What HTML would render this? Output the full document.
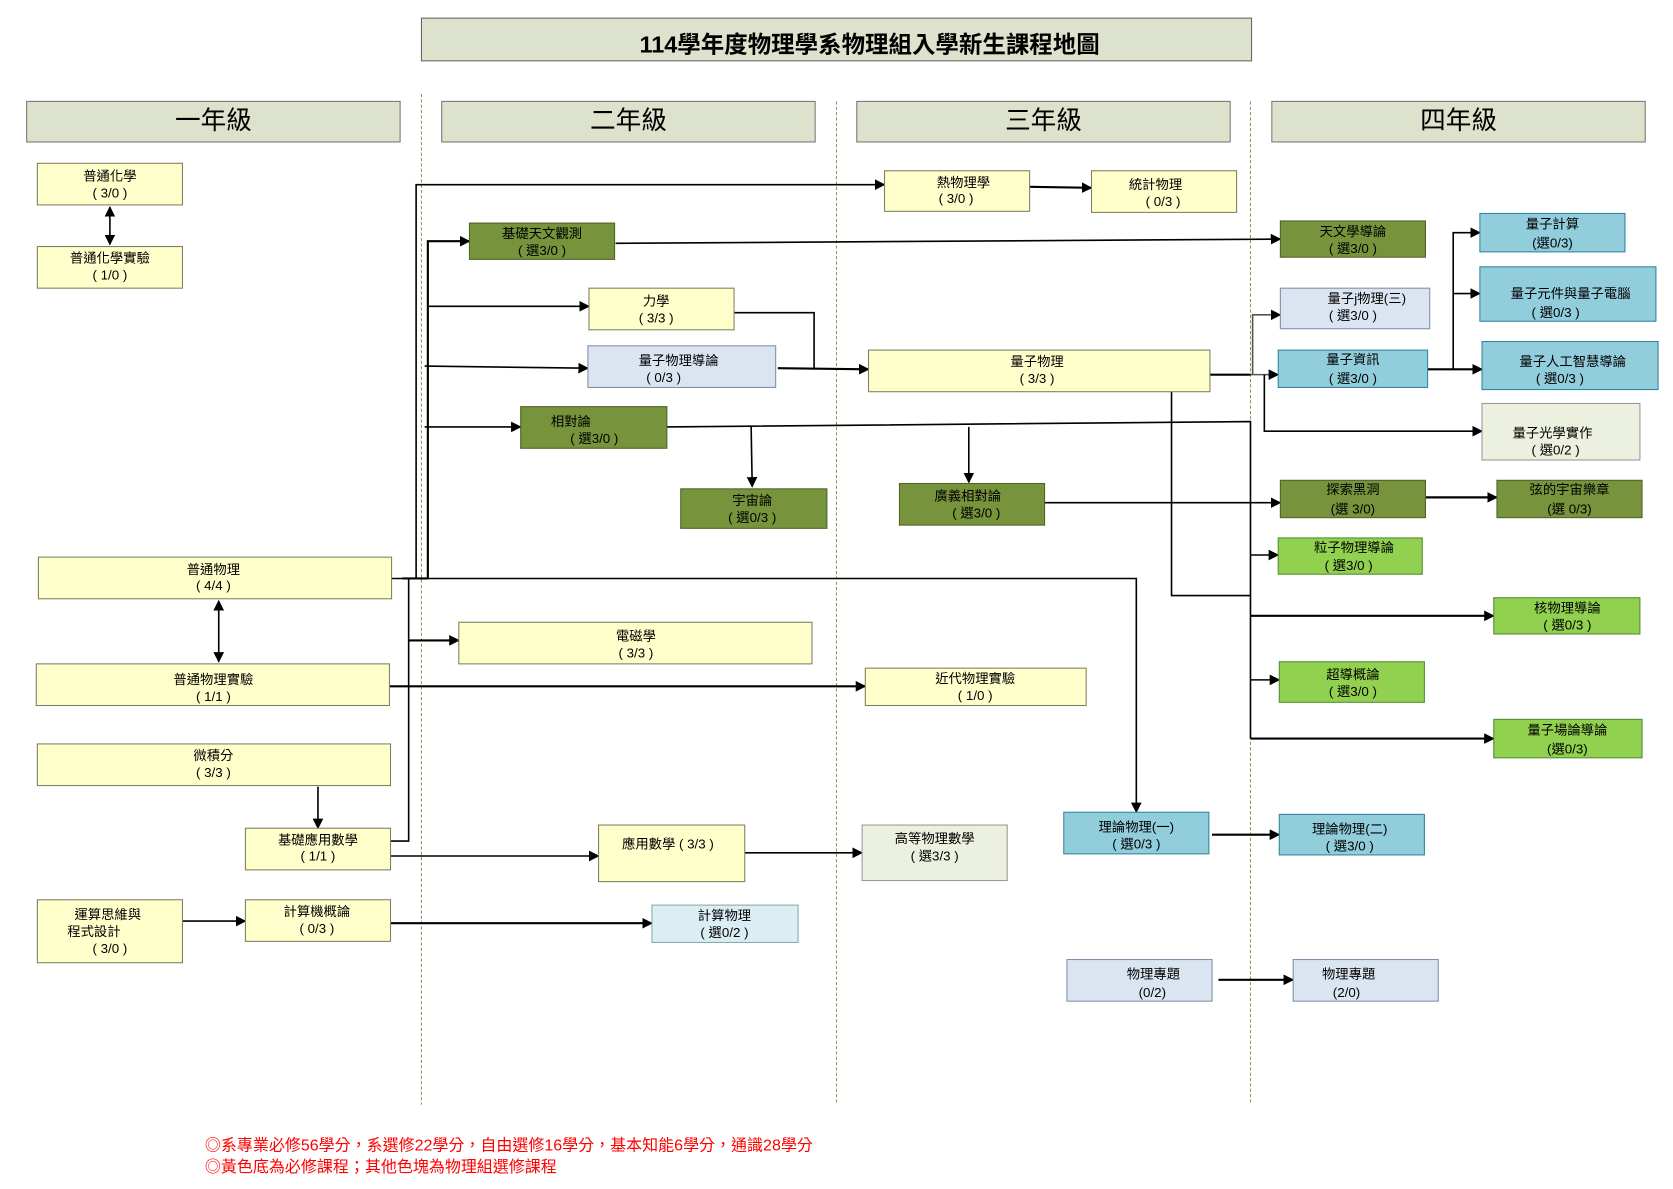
<!DOCTYPE html>
<html><head><meta charset="utf-8">
<style>
html,body{margin:0;padding:0;background:#fff;}
svg{display:block;}
text{font-family:"Liberation Sans","Noto Sans CJK TC",sans-serif;fill:#000;}
</style></head>
<body>
<svg width="1673" height="1189" viewBox="0 0 1568 1114" preserveAspectRatio="none" xmlns="http://www.w3.org/2000/svg">
<defs>
<marker id="a" markerWidth="10" markerHeight="10" refX="9" refY="5" orient="auto" markerUnits="userSpaceOnUse"><path d="M0,0 L10,5 L0,10 z" fill="#000"/></marker>
<marker id="s" markerWidth="10" markerHeight="10" refX="1" refY="5" orient="auto" markerUnits="userSpaceOnUse"><path d="M10,0 L0,5 L10,10 z" fill="#000"/></marker>
</defs>
<g stroke="#8a9a5b" stroke-width="1" stroke-dasharray="3,2">
<line x1="395" y1="88" x2="395" y2="1035"/>
<line x1="784" y1="95" x2="784" y2="1035"/>
<line x1="1172" y1="95" x2="1172" y2="1035"/>
</g>
<rect x="395" y="17" width="778" height="40" fill="#dde2cc" stroke="#666"/>
<text x="815" y="49" font-size="22" font-weight="bold" text-anchor="middle">114學年度物理學系物理組入學新生課程地圖</text>
<g fill="#dde2cc" stroke="#777">
<rect x="25" y="95" width="350" height="38"/><rect x="414" y="95" width="350" height="38"/>
<rect x="803" y="95" width="350" height="38"/><rect x="1192" y="95" width="350" height="38"/>
</g>
<g font-size="24" text-anchor="middle">
<text x="200" y="121">一年級</text><text x="589" y="121">二年級</text>
<text x="978" y="121">三年級</text><text x="1367" y="121">四年級</text>
</g>

<g stroke="#000" stroke-width="1.5" fill="none">
<line x1="103" y1="194" x2="103" y2="229" marker-start="url(#s)" marker-end="url(#a)"/>
<line x1="205" y1="563" x2="205" y2="620" marker-start="url(#s)" marker-end="url(#a)"/>
<polyline points="367,542 390,542 390,173 829,173" marker-end="url(#a)"/>
<line x1="965" y1="175" x2="1023" y2="176" stroke-width="2" marker-end="url(#a)"/>
<polyline points="377,542 401,542 401,226 440,226" stroke-width="2" marker-end="url(#a)"/>
<line x1="402" y1="287" x2="552" y2="287" marker-end="url(#a)"/>
<line x1="398" y1="343" x2="551" y2="345" marker-end="url(#a)"/>
<line x1="398" y1="400" x2="488" y2="400" marker-end="url(#a)"/>
<line x1="577" y1="228" x2="1200" y2="224" marker-end="url(#a)"/>
<polyline points="688,293 763,293 763,345"/>
<line x1="729" y1="345" x2="814" y2="346" stroke-width="2" marker-end="url(#a)"/>
<polyline points="625,400 1172,395 1172,692"/>
<line x1="704" y1="400" x2="705" y2="456" marker-end="url(#a)"/>
<line x1="908" y1="400" x2="908" y2="452" marker-end="url(#a)"/>
<line x1="1172" y1="520" x2="1198" y2="520" marker-end="url(#a)"/>
<line x1="1172" y1="577" x2="1400" y2="577" stroke-width="2" marker-end="url(#a)"/>
<line x1="1172" y1="637" x2="1199" y2="637" marker-end="url(#a)"/>
<line x1="1172" y1="692" x2="1400" y2="692" stroke-width="2" marker-end="url(#a)"/>
<line x1="979" y1="471" x2="1200" y2="471" marker-end="url(#a)"/>
<line x1="1336" y1="466" x2="1403" y2="466" stroke-width="2" marker-end="url(#a)"/>
<line x1="1134" y1="351" x2="1172" y2="351" stroke-width="2"/>
<polyline points="1174,351 1174,295 1200,295" stroke="#555" marker-end="url(#a)"/>
<line x1="1172" y1="351" x2="1198" y2="351" stroke="#555" marker-end="url(#a)"/>
<polyline points="1185,351 1185,404 1389,404" marker-end="url(#a)"/>
<polyline points="1098,365 1098,558 1172,558"/>
<line x1="1338" y1="346" x2="1389" y2="346" stroke-width="2" marker-end="url(#a)"/>
<polyline points="1362,346 1362,218 1387,218" marker-end="url(#a)"/>
<line x1="1362" y1="275" x2="1387" y2="275" marker-end="url(#a)"/>
<polyline points="401,542 1065,542 1065,761" marker-end="url(#a)"/>
<line x1="365" y1="643" x2="811" y2="643" stroke-width="2" marker-end="url(#a)"/>
<polyline points="366,788 383,788 383,542"/>
<line x1="383" y1="600" x2="430" y2="600" stroke-width="2" marker-end="url(#a)"/>
<line x1="298" y1="737" x2="298" y2="776" marker-end="url(#a)"/>
<line x1="366" y1="802" x2="561" y2="802" marker-end="url(#a)"/>
<line x1="698" y1="799" x2="808" y2="799" marker-end="url(#a)"/>
<line x1="171" y1="863" x2="230" y2="863" marker-end="url(#a)"/>
<line x1="366" y1="865" x2="611" y2="865" stroke-width="2" marker-end="url(#a)"/>
<line x1="1136" y1="782" x2="1199" y2="782" stroke-width="2" marker-end="url(#a)"/>
<line x1="1142" y1="918" x2="1212" y2="918" stroke-width="2" marker-end="url(#a)"/>
</g>

<g stroke="#7f7f5f" stroke-width="1">
<g fill="#ffffcc">
<rect x="35" y="153" width="136" height="39"/><rect x="35" y="231" width="136" height="39"/>
<rect x="552" y="270" width="136" height="39"/><rect x="36" y="522" width="331" height="39"/>
<rect x="34" y="622" width="331" height="39"/><rect x="35" y="697" width="331" height="39"/>
<rect x="230" y="776" width="136" height="39"/><rect x="35" y="843" width="136" height="59"/>
<rect x="230" y="843" width="136" height="39"/><rect x="430" y="583" width="331" height="39"/>
<rect x="561" y="773" width="137" height="53"/><rect x="829" y="160" width="136" height="38"/>
<rect x="1023" y="160" width="136" height="39"/><rect x="814" y="328" width="320" height="39"/>
<rect x="811" y="626" width="207" height="35"/>
</g>
<g fill="#77933c" stroke="#4f6228">
<rect x="440" y="209" width="136" height="34"/><rect x="488" y="381" width="137" height="39"/>
<rect x="638" y="458" width="137" height="37"/><rect x="843" y="453" width="136" height="39"/>
<rect x="1200" y="207" width="136" height="34"/><rect x="1200" y="450" width="136" height="35"/>
<rect x="1403" y="450" width="136" height="35"/>
</g>
<g fill="#dbe5f1" stroke="#7f8fa6">
<rect x="551" y="324" width="176" height="39"/><rect x="1000" y="899" width="136" height="39"/>
<rect x="1200" y="270" width="140" height="38"/><rect x="1212" y="899" width="136" height="39"/>
</g>
<g fill="#92cddc" stroke="#31859c">
<rect x="997" y="761" width="136" height="39"/><rect x="1198" y="328" width="140" height="35"/>
<rect x="1387" y="200" width="136" height="36"/><rect x="1387" y="250" width="165" height="51"/>
<rect x="1389" y="320" width="165" height="45"/><rect x="1199" y="763" width="136" height="38"/>
</g>
<g fill="#92d050" stroke="#4f8f2f">
<rect x="1198" y="504" width="135" height="34"/><rect x="1400" y="560" width="137" height="34"/>
<rect x="1199" y="620" width="136" height="38"/><rect x="1400" y="674" width="139" height="36"/>
</g>
<g fill="#ebf1de" stroke="#999">
<rect x="808" y="773" width="136" height="52"/><rect x="1389" y="378" width="148" height="53"/>
</g>
<rect x="611" y="848" width="137" height="35" fill="#daeef3" stroke="#8aa"/>
</g>

<g font-size="12.5" text-anchor="middle">
<text x="103" y="169">普通化學</text><text x="103" y="185">( 3/0 )</text>
<text x="103" y="246">普通化學實驗</text><text x="103" y="262">( 1/0 )</text>
<text x="508" y="223">基礎天文觀測</text><text x="508" y="239">( 選3/0 )</text>
<text x="615" y="286">力學</text><text x="615" y="302">( 3/3 )</text>
<text x="636" y="342">量子物理導論</text><text x="622" y="358">( 0/3 )</text>
<text x="535" y="399">相對論</text><text x="557" y="415">( 選3/0 )</text>
<text x="705" y="473">宇宙論</text><text x="705" y="489">( 選0/3 )</text>
<text x="200" y="538">普通物理</text><text x="200" y="553">( 4/4 )</text>
<text x="200" y="641">普通物理實驗</text><text x="200" y="657">( 1/1 )</text>
<text x="200" y="712">微積分</text><text x="200" y="728">( 3/3 )</text>
<text x="298" y="791">基礎應用數學</text><text x="298" y="806">( 1/1 )</text>
<text x="101" y="861">運算思維與</text><text x="88" y="877">程式設計</text><text x="103" y="893">( 3/0 )</text>
<text x="297" y="858">計算機概論</text><text x="297" y="874">( 0/3 )</text>
<text x="596" y="600">電磁學</text><text x="596" y="616">( 3/3 )</text>
<text x="626" y="795">應用數學 ( 3/3 )</text>
<text x="679" y="862">計算物理</text><text x="679" y="878">( 選0/2 )</text>
<text x="903" y="175">熱物理學</text><text x="896" y="190">( 3/0 )</text>
<text x="1083" y="177">統計物理</text><text x="1090" y="193">( 0/3 )</text>
<text x="972" y="343">量子物理</text><text x="972" y="359">( 3/3 )</text>
<text x="907" y="469">廣義相對論</text><text x="915" y="485">( 選3/0 )</text>
<text x="914" y="640">近代物理實驗</text><text x="914" y="656">( 1/0 )</text>
<text x="876" y="790">高等物理數學</text><text x="876" y="806">( 選3/3 )</text>
<text x="1065" y="779">理論物理(一)</text><text x="1065" y="795">( 選0/3 )</text>
<text x="1081" y="917">物理專題</text><text x="1080" y="934">(0/2)</text>
<text x="1268" y="221">天文學導論</text><text x="1268" y="237">( 選3/0 )</text>
<text x="1281" y="284">量子j物理(三)</text><text x="1268" y="300">( 選3/0 )</text>
<text x="1268" y="341">量子資訊</text><text x="1268" y="359">( 選3/0 )</text>
<text x="1455" y="214">量子計算</text><text x="1455" y="232">(選0/3)</text>
<text x="1472" y="279">量子元件與量子電腦</text><text x="1458" y="297">( 選0/3 )</text>
<text x="1474" y="343">量子人工智慧導論</text><text x="1462" y="359">( 選0/3 )</text>
<text x="1455" y="410">量子光學實作</text><text x="1458" y="426">( 選0/2 )</text>
<text x="1268" y="463">探索黑洞</text><text x="1268" y="481">(選 3/0)</text>
<text x="1471" y="463">弦的宇宙樂章</text><text x="1471" y="481">(選 0/3)</text>
<text x="1269" y="517">粒子物理導論</text><text x="1264" y="534">( 選3/0 )</text>
<text x="1469" y="574">核物理導論</text><text x="1469" y="590">( 選0/3 )</text>
<text x="1268" y="636">超導概論</text><text x="1268" y="652">( 選3/0 )</text>
<text x="1469" y="688">量子場論導論</text><text x="1469" y="706">(選0/3)</text>
<text x="1265" y="781">理論物理(二)</text><text x="1265" y="797">( 選3/0 )</text>
<text x="1264" y="917">物理專題</text><text x="1262" y="934">(2/0)</text>
</g>
<g font-size="15">
<text x="192" y="1078" style="fill:#ff0000">◎系專業必修56學分，系選修22學分，自由選修16學分，基本知能6學分，通識28學分</text>
<text x="192" y="1098" style="fill:#ff0000">◎黃色底為必修課程；其他色塊為物理組選修課程</text>
</g>
</svg>
</body></html>
